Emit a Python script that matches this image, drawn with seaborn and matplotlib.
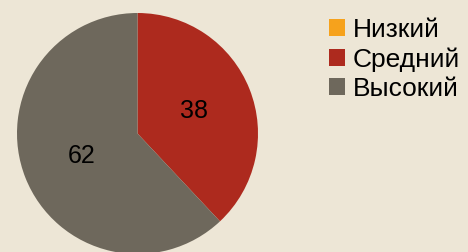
import matplotlib
matplotlib.use('Agg')
import matplotlib.pyplot as plt
from matplotlib.patches import Patch
import seaborn as sns

sns.set_theme(style='white')
plt.rcParams['font.family'] = ['Liberation Sans', 'DejaVu Sans']

# data
categories = ['Низкий', 'Средний', 'Высокий']
values = [0, 38, 62]
colors = ['#F6A21C', '#AD2A1E', '#6E685C']
bg = '#EDE6D6'

fig = plt.figure(figsize=(4.68, 2.52), dpi=100, facecolor=bg)
ax = fig.add_axes([17 / 468, -2 / 252, 241 / 468, 241 / 252])
ax.set_facecolor(bg)

ax.pie(values, colors=colors, startangle=90, counterclock=False,
       autopct=lambda p: f'{p:.0f}' if p > 0.5 else '',
       pctdistance=0.5, radius=1,
       wedgeprops=dict(linewidth=0),
       textprops=dict(fontsize=18, color='black'))
ax.set_xlim(-1, 1)
ax.set_ylim(-1, 1)
ax.set_aspect('equal')
ax.axis('off')

handles = [Patch(facecolor=c, edgecolor='none') for c in colors]
leg = fig.legend(handles, categories, loc='upper left',
                 bbox_to_anchor=(329 / 468, 1 - 18 / 252),
                 frameon=False, fontsize=19,
                 handlelength=0.6, handleheight=0.6,
                 handletextpad=0.3, labelspacing=0.2,
                 borderpad=0, borderaxespad=0)
for t in leg.get_texts():
    t.set_color('black')

fig.savefig('out.png', dpi=100, facecolor=bg)
